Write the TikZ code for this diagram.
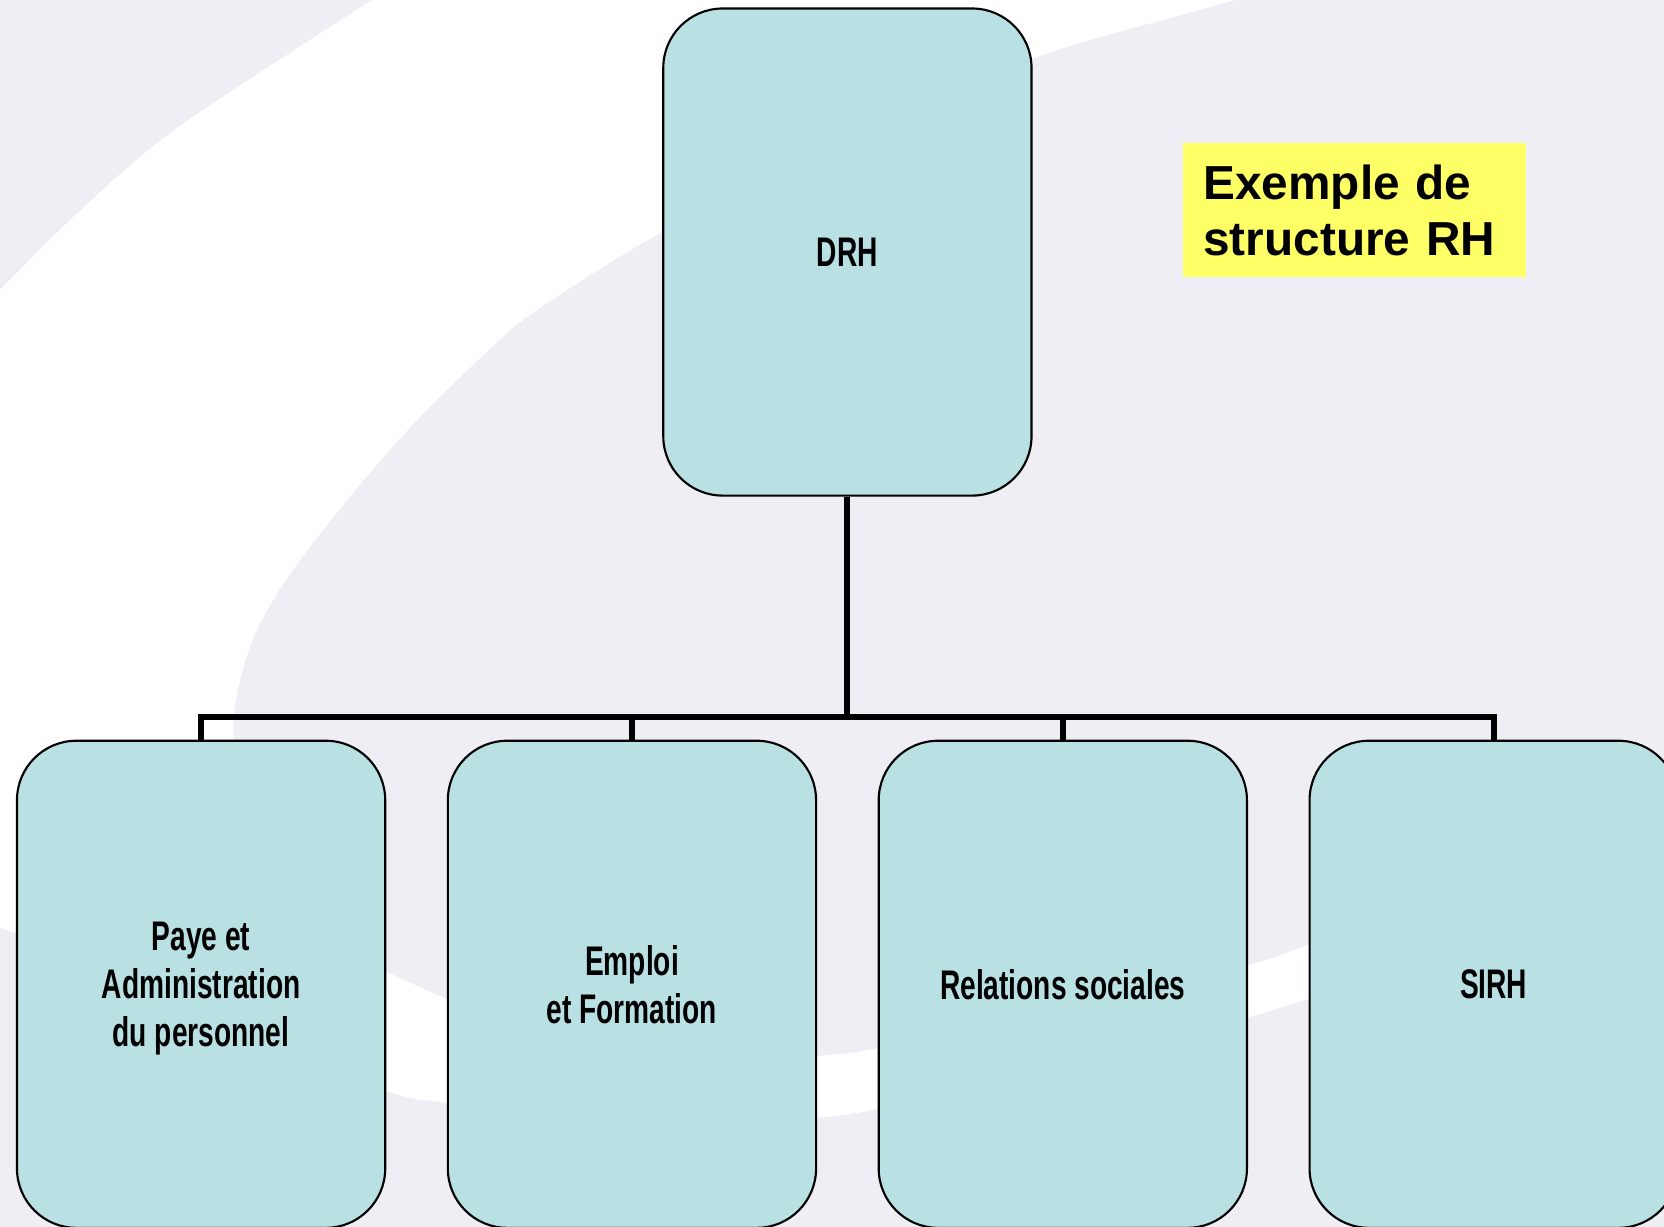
\documentclass[tikz,border=0pt]{standalone}
\usepackage{fontspec}
\setmainfont{Liberation Sans}
\newfontfamily\agency{Liberation Sans}[FakeStretch=0.68]
\definecolor{bg}{HTML}{EEEEF4}
\definecolor{boxfill}{HTML}{B9E0E3}
\definecolor{notefill}{HTML}{FFFF66}
\begin{document}
\begin{tikzpicture}[x=1pt,y=-1pt,
  unit/.style={draw=black, line width=2pt, fill=boxfill, rounded corners=56pt,
    minimum width=347pt, minimum height=459pt, inner sep=0pt, align=center,
    text depth=0pt,
    font=\agency\bfseries\fontsize{39}{45.5}\selectfont},
  conn/.style={draw=black, line width=5.5pt, line join=miter},
  notebox/.style={fill=notefill, inner xsep=19pt, inner ysep=0pt, text width=284.5pt,
    minimum height=126pt, align=left, font=\bfseries\fontsize{45}{52.7}\selectfont}]
\useasboundingbox (0,0) rectangle (1568,1156);
\clip (0,0) rectangle (1568,1156);
% background
\fill[bg] (0,0) rectangle (1568,1156);
\fill[white]
  plot[smooth] coordinates {(1360,-57) (1164,0) (973,55) (800,130) (625,218) (515,286)
    (470,321) (390,399) (320,480) (265,553) (235,611) (220,681) (230,770) (265,850)
    (320,893) (365,916) (421,941) (500,968) (600,990) (700,999) (771,995) (827,988)
    (1000,955) (1175,910) (1234,890) (1400,835) (1500,805)}
  -- plot[smooth] coordinates {(1500,850) (1400,892) (1234,941) (1175,959) (1000,1008)
    (827,1045) (771,1053) (680,1056) (550,1050) (421,1039) (365,1028) (250,975)
    (120,910) (16,880) (0,874) (-80,845)}
  -- (-80,350)
  -- plot[smooth] coordinates {(-80,350) (0,273) (75,199) (165,122) (350,0) (535,-122)}
  -- cycle;
% nodes
\node[unit] (drh) at (798.5,237.5) {DRH};
\node[unit] (b1) at (189.5,927.5) {Paye et\\Administration\\du personnel};
\node[unit] (b2) at (595.5,927.5) {Emploi\\et Formation};
\node[unit] (b3) at (1001.5,927.5) {Relations sociales};
\node[unit] (b4) at (1407.5,927.5) {SIRH};
\node[notebox] (note) at (1276.25,198) {Exemple de\\structure RH};
% connectors
\coordinate (bus) at (798.5,675.5);
\draw[conn] (drh.south) -- (bus);
\draw[conn] (b1.north) -- (b1.north |- bus) -- (b4.north |- bus) -- (b4.north);
\draw[conn] (b2.north) -- (b2.north |- bus);
\draw[conn] (b3.north) -- (b3.north |- bus);
\end{tikzpicture}
\end{document}
